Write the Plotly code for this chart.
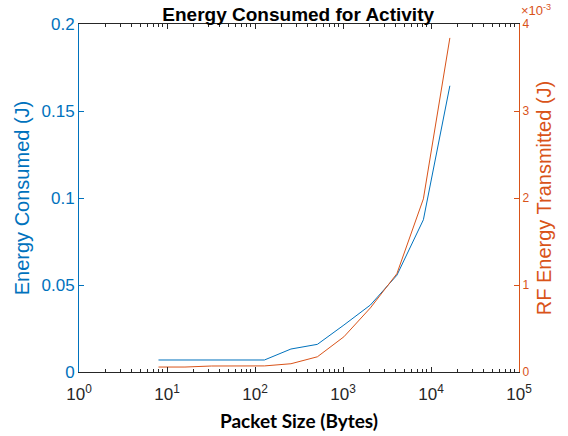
import plotly.graph_objects as go

packet_size = [8, 16, 32, 64, 128, 256, 512, 1024, 2048, 4096, 8192, 16384]
energy_consumed = [0.0069, 0.0070, 0.0070, 0.0069, 0.0069, 0.0132, 0.0159, 0.0270, 0.0385, 0.0556, 0.0875, 0.1645]
rf_energy_mJ = [0.057, 0.057, 0.069, 0.069, 0.070, 0.095, 0.175, 0.405, 0.737, 1.13, 1.99, 3.84]

x_tickvals = [1, 10, 100, 1000, 10000, 100000]
x_ticktext = ["10<sup>0</sup>", "10<sup>1</sup>", "10<sup>2</sup>", "10<sup>3</sup>", "10<sup>4</sup>", "10<sup>5</sup>"]
y1_tickvals = [0, 0.05, 0.1, 0.15, 0.2]
y1_ticktext = ["0", "0.05", "0.1", "0.15", "0.2"]
y2_tickvals = [0, 1, 2, 3, 4]

BLUE = "#0072BD"
ORANGE = "#D95319"
AX = "#262626"
FONT = "Liberation Sans, Arial, sans-serif"

fig = go.Figure()
fig.add_trace(go.Scatter(x=packet_size, y=energy_consumed, mode="lines",
                         line=dict(color=BLUE, width=1), yaxis="y", showlegend=False))
fig.add_trace(go.Scatter(x=packet_size, y=rf_energy_mJ, mode="lines",
                         line=dict(color=ORANGE, width=1), yaxis="y2", showlegend=False))

fig.update_layout(
    width=568, height=436,
    margin=dict(l=79, r=49, t=24, b=64),
    paper_bgcolor="white", plot_bgcolor="white",
    font=dict(family=FONT, size=15, color=AX),
    title=dict(text="<b>Energy Consumed for Activity</b>", x=0.525, xanchor="center",
               y=0.968, yanchor="middle", font=dict(family=FONT, size=19, color="black")),
    xaxis=dict(type="log", range=[0, 5], tickvals=x_tickvals, ticktext=x_ticktext,
               automargin=False,
               showgrid=False, zeroline=False, showline=True, linecolor=AX, linewidth=1,
               mirror="ticks", ticks="inside", ticklen=5, tickcolor=AX,
               minor=dict(ticks="inside", ticklen=3, dtick="D1", tickcolor=AX, showgrid=False),
               tickfont=dict(size=17, color=AX), ticklabelstandoff=7,
               title=dict(text="<b>Packet Size (Bytes)</b>", standoff=11,
                          font=dict(family="Lato, Open Sans, sans-serif", size=19, color="black"))),
    yaxis=dict(range=[0, 0.2], tickvals=y1_tickvals, ticktext=y1_ticktext,
               automargin=False,
               showgrid=False, zeroline=False, showline=True, linecolor=BLUE, linewidth=1,
               ticks="inside", ticklen=5, tickcolor=BLUE,
               tickfont=dict(size=17, color=BLUE),
               title=dict(text="Energy Consumed (J)", standoff=6,
                          font=dict(size=20, color=BLUE))),
    yaxis2=dict(range=[0, 4], tickvals=y2_tickvals, overlaying="y", side="right",
                automargin=False,
                showgrid=False, zeroline=False, showline=True, linecolor=ORANGE, linewidth=1,
                ticks="inside", ticklen=5, tickcolor=ORANGE,
                tickfont=dict(size=12, color=ORANGE),
                title=dict(text="RF Energy Transmitted (J)", standoff=8,
                           font=dict(size=20, color=ORANGE))),
)

fig.add_annotation(text="×10<sup>-3</sup>", xref="paper", yref="paper", x=1.0, y=1.0,
                   xanchor="left", yanchor="bottom", xshift=0, yshift=4, showarrow=False,
                   font=dict(family=FONT, size=13, color=ORANGE))

fig.write_html("out.html")
